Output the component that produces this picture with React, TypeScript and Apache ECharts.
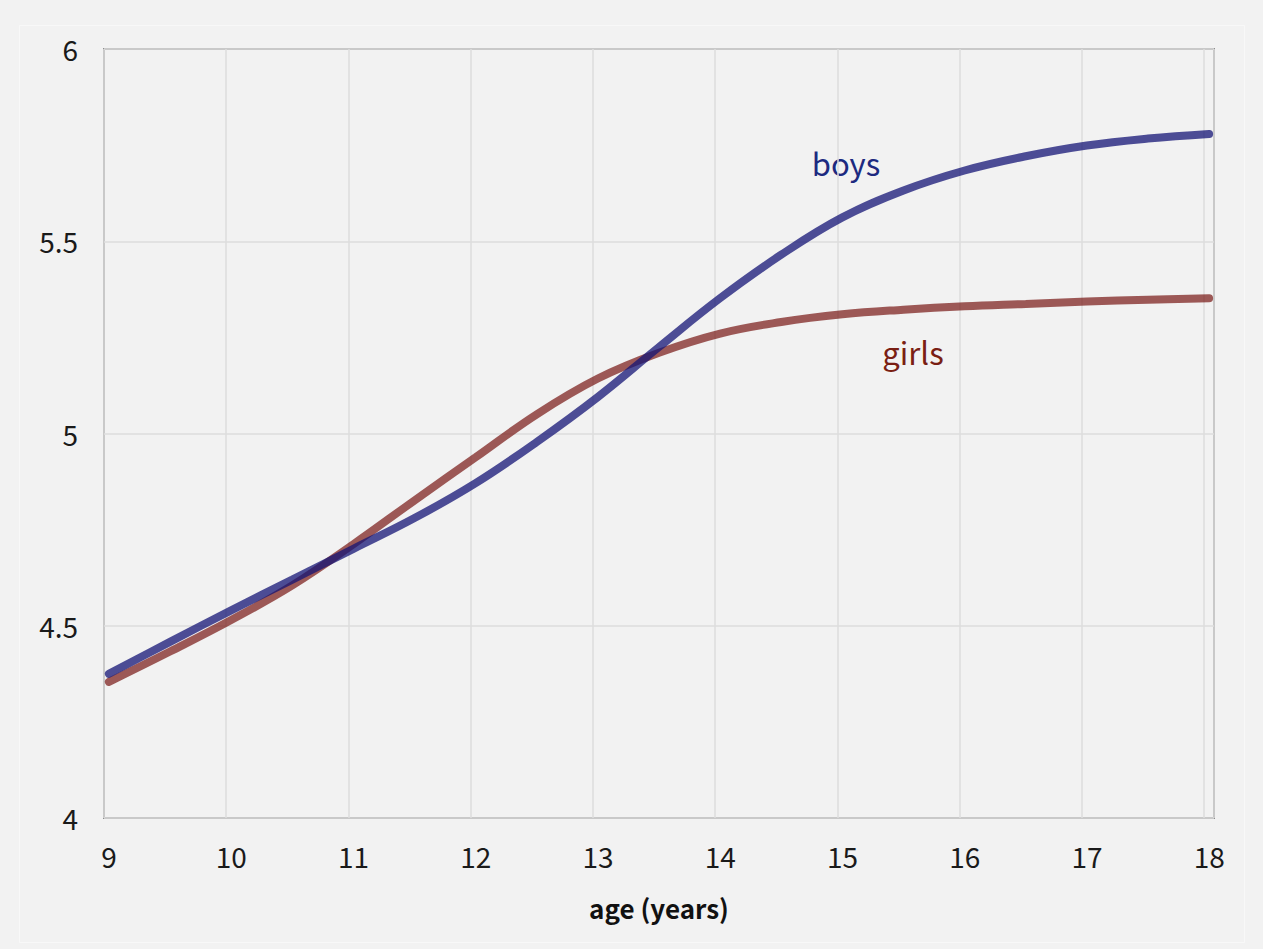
import React, { useEffect, useRef } from "react";
import * as echarts from "echarts";

const ages = [9, 9.5, 10, 10.5, 11, 11.5, 12, 12.5, 13, 13.5, 14, 14.5, 15, 15.5, 16, 16.5, 17, 17.5, 18];
const boys = [4.375, 4.458, 4.540, 4.620, 4.700, 4.780, 4.871, 4.978, 5.095, 5.225, 5.352, 5.465, 5.562, 5.632, 5.684, 5.721, 5.749, 5.767, 5.779];
const girls = [4.354, 4.433, 4.515, 4.605, 4.712, 4.826, 4.938, 5.050, 5.143, 5.210, 5.260, 5.290, 5.310, 5.322, 5.331, 5.337, 5.343, 5.348, 5.352];
const yTicks = { min: 4, max: 6, step: 0.5 };
const xTicks = { min: 9, max: 18, step: 1 };

const FONT = "'Noto Sans CJK JP', 'Noto Sans', sans-serif";

export default function App() {
  const ref = useRef<HTMLDivElement>(null);
  useEffect(() => {
    if (!ref.current) return;
    const chart = echarts.init(ref.current, undefined, { renderer: "svg" });
    const toPairs = (v: number[]) => ages.map((a, i) => [a, v[i]]);
    chart.setOption({
      animation: false,
      backgroundColor: "#f2f2f2",
      textStyle: { fontFamily: FONT },
      graphic: [
        {
          type: "rect",
          shape: { x: 19.5, y: 25.5, width: 1225, height: 917 },
          style: { fill: "none", stroke: "#f8f8f8", lineWidth: 1 },
          silent: true,
          z: -1,
        },
        {
          type: "text",
          x: 846,
          y: 162,
          style: { text: "boys", fill: "#1d2a80", font: `31px ${FONT}`, textAlign: "center", textVerticalAlign: "middle" },
        },
        {
          type: "text",
          x: 913,
          y: 351,
          style: { text: "girls", fill: "#7a1f14", font: `31px ${FONT}`, textAlign: "center", textVerticalAlign: "middle" },
        },
      ],
      grid: {
        left: 104,
        top: 49,
        width: 1110,
        height: 769,
        show: true,
        borderColor: "#8e8e8e",
        borderWidth: 2,
        backgroundColor: "transparent",
      },
      xAxis: [
        {
          type: "value",
          min: xTicks.min,
          max: xTicks.max + 0.08,
          interval: xTicks.step,
          axisLine: { show: false },
          axisTick: { show: false },
          splitLine: { show: true, lineStyle: { color: "#dcdcdc", width: 1.5 } },
          axisLabel: {
            fontSize: 28,
            color: "#1a1a1a",
            margin: 24,
            padding: [0, 0, 0, 10],
            fontFamily: FONT,
            formatter: (v: number) => (Number.isInteger(v) && v <= xTicks.max ? String(v) : ""),
            showMaxLabel: false,
          },
          name: "age (years)",
          nameLocation: "middle",
          nameGap: 76,
          nameTextStyle: { fontSize: 26, fontWeight: "bold", color: "#111", fontFamily: FONT },
        },
        {
          type: "value",
          min: xTicks.min - 0.04,
          max: xTicks.max + 0.04,
          show: false,
          splitLine: { show: false },
        },
      ],
      yAxis: {
        type: "value",
        min: yTicks.min,
        max: yTicks.max,
        interval: yTicks.step,
        axisLine: { show: false },
        axisTick: { show: false },
        splitLine: { show: true, lineStyle: { color: "#dcdcdc", width: 1.5 } },
        axisLabel: { fontSize: 28, color: "#1a1a1a", margin: 26, fontFamily: FONT },
      },
      series: [
        {
          name: "girls",
          type: "line",
          xAxisIndex: 1,
          data: toPairs(girls),
          smooth: 0.4,
          showSymbol: false,
          lineStyle: { color: "rgba(115,15,12,0.68)", width: 8, cap: "round" },
          z: 2,
        },
        {
          name: "boys",
          type: "line",
          xAxisIndex: 1,
          data: toPairs(boys),
          smooth: 0.4,
          showSymbol: false,
          lineStyle: { color: "rgba(20,20,118,0.75)", width: 8, cap: "round" },
          z: 3,
        },
      ],
    });
    return () => chart.dispose();
  }, []);
  return <div ref={ref} style={{ position: "fixed", left: 0, top: 0, width: 1263, height: 949 }} />;
}
